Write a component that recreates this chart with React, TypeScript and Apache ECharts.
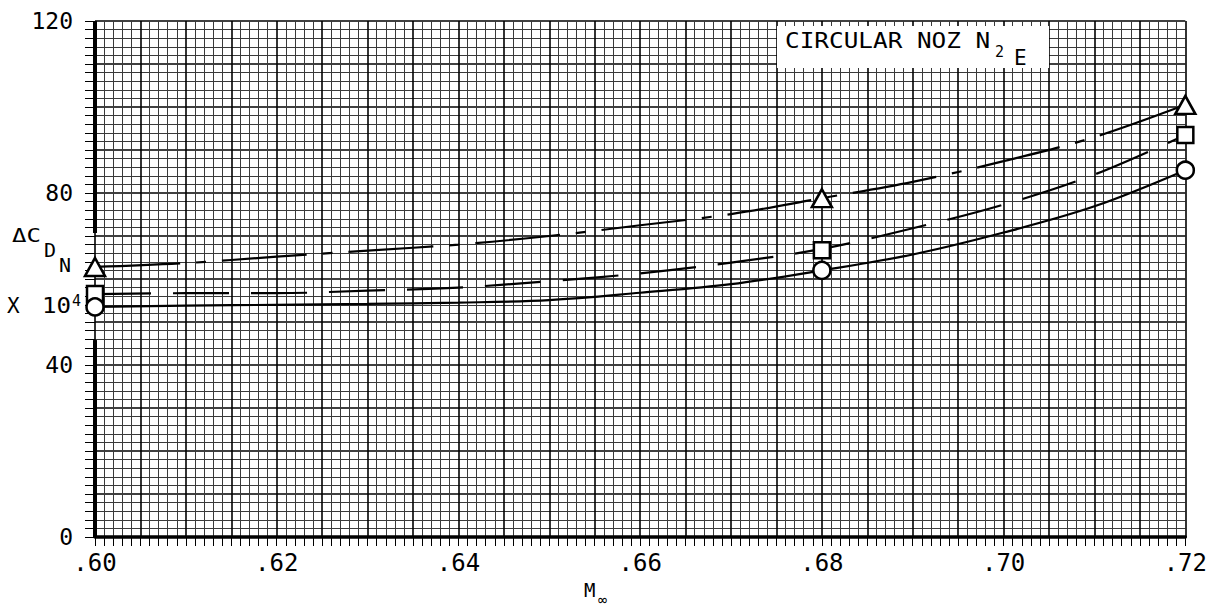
import React, { useEffect, useRef } from 'react';
import * as echarts from 'echarts';

// Faired curves
const machCurve = [0.60, 0.61, 0.62, 0.63, 0.64, 0.65, 0.66, 0.67, 0.68, 0.69, 0.70, 0.71, 0.72];
const triangleCurve = [62.8, 63.7, 65.2, 66.6, 68.0, 70.0, 72.5, 75.1, 78.8, 82.6, 87.4, 93.0, 100.5];
const squareCurve = [56.5, 56.7, 56.7, 57.3, 58.0, 59.5, 61.3, 63.8, 67.0, 71.8, 77.3, 84.3, 93.5];
const circleCurve = [53.5, 53.8, 54.0, 54.2, 54.5, 55.1, 56.8, 58.8, 62.0, 65.7, 70.8, 76.9, 85.3];

// Test points
const machPoints = [0.60, 0.68, 0.72];
const trianglePoints = [62.8, 78.8, 100.5];
const squarePoints = [56.5, 66.7, 93.5];
const circlePoints = [53.5, 62.0, 85.3];

// Tick labels
const xTickLabels = [0.60, 0.62, 0.64, 0.66, 0.68, 0.70, 0.72];
const yTickLabels = [0, 40, 80, 120];

// Heavy y-axis segments (axis is broken where the .60 symbols sit)
const axisSegLow = [0, 45.8];
const axisSegHigh = [70.7, 120];

const FONT = 'DejaVu Sans Mono';

export default function App() {
  const ref = useRef<HTMLDivElement>(null);
  useEffect(() => {
    const chart = echarts.init(ref.current!, null, { renderer: 'svg' });
    const pair = (xs: number[], ys: number[]) => xs.map((x, i) => [x, ys[i]]);
    const xLabelSet = xTickLabels.map((v) => Math.round(v * 1000));
    const yLabelSet = yTickLabels.map((v) => Math.round(v));

    const markerStyle = { color: '#fff', borderColor: '#000', borderWidth: 2.5, opacity: 1 };

    const option: any = {
      animation: false,
      backgroundColor: '#fff',
      grid: { left: 95, right: 22, top: 21, bottom: 73, containLabel: false },
      xAxis: {
        type: 'value',
        min: 0.6,
        max: 0.72,
        interval: 0.005,
        axisLine: { show: true, onZero: false, lineStyle: { color: '#000', width: 3.5 } },
        axisTick: { show: true, length: 9, lineStyle: { color: '#000', width: 1 } },
        minorTick: { show: true, splitNumber: 5, length: 9, lineStyle: { color: '#000', width: 1 } },
        splitLine: { show: true, lineStyle: { color: '#000', width: 1.6 } },
        minorSplitLine: { show: true, lineStyle: { color: '#3a3a3a', width: 1 } },
        axisLabel: {
          color: '#000',
          fontFamily: FONT,
          fontSize: 24,
          margin: 14,
          showMinLabel: true,
          showMaxLabel: true,
          formatter: (v: number) => {
            const k = Math.round(v * 1000);
            return xLabelSet.includes(k) ? '.' + String(Math.round(v * 100)) : '';
          },
        },
      },
      yAxis: {
        type: 'value',
        min: 0,
        max: 120,
        interval: 10,
        axisLine: { show: false },
        axisTick: { show: true, length: 10, lineStyle: { color: '#000', width: 1 } },
        minorTick: { show: true, splitNumber: 5, length: 10, lineStyle: { color: '#000', width: 1 } },
        splitLine: { show: true, lineStyle: { color: '#000', width: 1.6 } },
        minorSplitLine: { show: true, lineStyle: { color: '#3a3a3a', width: 1 } },
        axisLabel: {
          color: '#000',
          fontFamily: FONT,
          fontSize: 23,
          margin: 22,
          formatter: (v: number) => (yLabelSet.includes(Math.round(v)) ? String(Math.round(v)) : ''),
        },
      },
      series: [
        {
          type: 'line',
          data: [[machPoints[0], axisSegLow[0]], [machPoints[0], axisSegLow[1]]],
          symbol: 'none',
          lineStyle: { color: '#000', width: 4 },
          z: 3,
        },
        {
          type: 'line',
          data: [[machPoints[0], axisSegHigh[0]], [machPoints[0], axisSegHigh[1]]],
          symbol: 'none',
          lineStyle: { color: '#000', width: 4 },
          z: 3,
        },
        {
          type: 'line',
          data: pair(machCurve, triangleCurve),
          smooth: 0.35,
          symbol: 'none',
          lineStyle: { color: '#000', width: 2.2, type: [85, 16, 10, 16] },
          z: 4,
        },
        {
          type: 'line',
          data: pair(machCurve, squareCurve),
          smooth: 0.35,
          symbol: 'none',
          lineStyle: { color: '#000', width: 2.2, type: [56, 22] },
          z: 4,
        },
        {
          type: 'line',
          data: pair(machCurve, circleCurve),
          smooth: 0.35,
          symbol: 'none',
          lineStyle: { color: '#000', width: 2.2, type: 'solid' },
          z: 4,
        },
        {
          type: 'scatter',
          data: pair(machPoints, trianglePoints),
          symbol: 'triangle',
          symbolSize: [20, 18],
          itemStyle: markerStyle,
          z: 5,
        },
        {
          type: 'scatter',
          data: pair(machPoints, squarePoints),
          symbol: 'rect',
          symbolSize: 16,
          itemStyle: markerStyle,
          z: 5,
        },
        {
          type: 'scatter',
          data: pair(machPoints, circlePoints),
          symbol: 'circle',
          symbolSize: 17,
          itemStyle: markerStyle,
          z: 5,
        },
      ],
      graphic: [
        { type: 'rect', z: 100, shape: { x: 777, y: 26, width: 272, height: 42 }, style: { fill: '#fff' } },
        {
          type: 'text', z: 101, x: 785, y: 41, scaleX: 1.16,
          style: { text: 'CIRCULAR NOZ N', fontFamily: FONT, fontSize: 21, fill: '#000', verticalAlign: 'middle' },
        },
        {
          type: 'text', z: 101, x: 995, y: 52,
          style: { text: '2', fontFamily: FONT, fontSize: 15, fill: '#000', verticalAlign: 'middle' },
        },
        {
          type: 'text', z: 101, x: 1014, y: 58,
          style: { text: 'E', fontFamily: FONT, fontSize: 21, fill: '#000', verticalAlign: 'middle' },
        },
        // y-axis title
        {
          type: 'text', z: 101, x: 12, y: 235, scaleX: 1.2,
          style: { text: 'ΔC', fontFamily: FONT, fontSize: 20, fill: '#000', verticalAlign: 'middle' },
        },
        {
          type: 'text', z: 101, x: 44, y: 250,
          style: { text: 'D', fontFamily: FONT, fontSize: 20, fill: '#000', verticalAlign: 'middle' },
        },
        {
          type: 'text', z: 101, x: 59, y: 265,
          style: { text: 'N', fontFamily: FONT, fontSize: 20, fill: '#000', verticalAlign: 'middle' },
        },
        {
          type: 'text', z: 101, x: 7, y: 306,
          style: { text: 'X', fontFamily: FONT, fontSize: 21, fill: '#000', verticalAlign: 'middle' },
        },
        {
          type: 'text', z: 101, x: 42, y: 306, scaleX: 1.15,
          style: { text: '10', fontFamily: FONT, fontSize: 21, fill: '#000', verticalAlign: 'middle' },
        },
        {
          type: 'text', z: 101, x: 72, y: 301,
          style: { text: '4', fontFamily: FONT, fontSize: 15, fill: '#000', verticalAlign: 'middle' },
        },
        // x-axis title
        {
          type: 'text', z: 101, x: 584, y: 590,
          style: { text: 'M', fontFamily: FONT, fontSize: 19, fill: '#000', verticalAlign: 'middle' },
        },
        {
          type: 'text', z: 101, x: 598, y: 600,
          style: { text: '∞', fontFamily: FONT, fontSize: 15, fill: '#000', verticalAlign: 'middle' },
        },
      ],
    };
    chart.setOption(option);
    return () => chart.dispose();
  }, []);
  return (
    <div
      ref={ref}
      style={{ position: 'fixed', left: 0, top: 0, width: 1210, height: 610, background: '#fff' }}
    />
  );
}
